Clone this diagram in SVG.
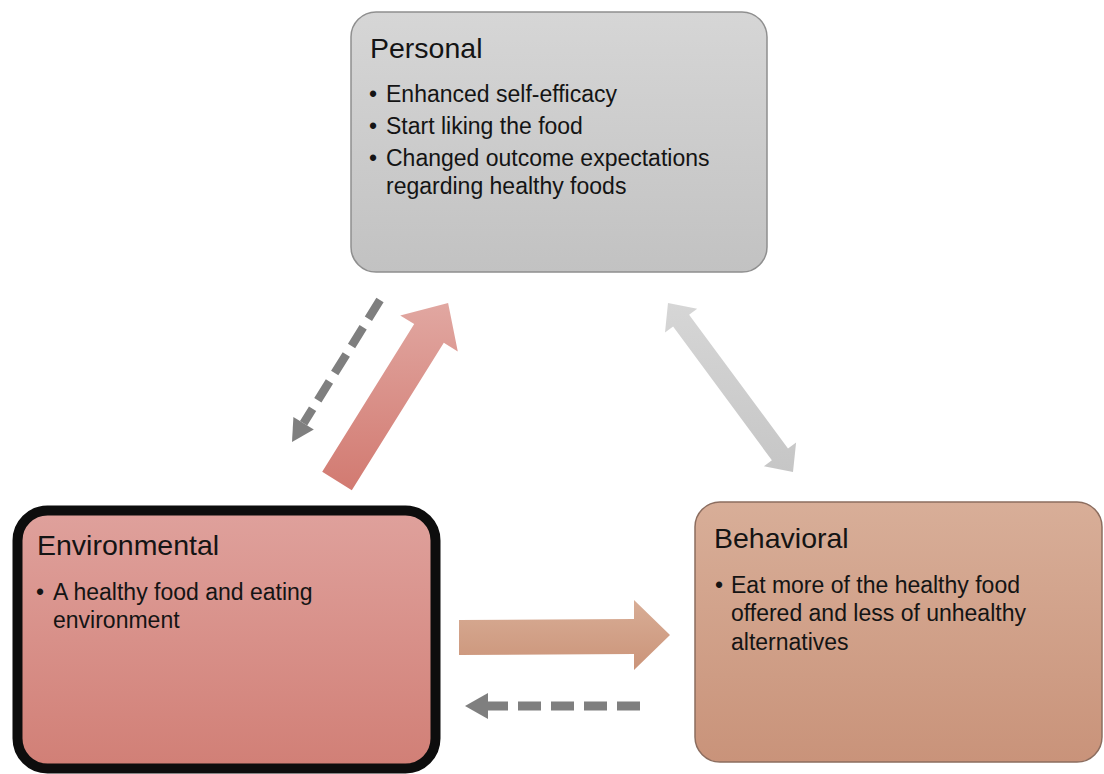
<svg xmlns="http://www.w3.org/2000/svg" width="1104" height="774" viewBox="0 0 1104 774">
  <defs>
    <linearGradient id="gPersonal" x1="0" y1="0" x2="0" y2="1">
      <stop offset="0" stop-color="#d6d6d6"/>
      <stop offset="1" stop-color="#c2c2c2"/>
    </linearGradient>
    <linearGradient id="gEnv" x1="0" y1="0" x2="0" y2="1">
      <stop offset="0" stop-color="#dfa19c"/>
      <stop offset="1" stop-color="#d17f76"/>
    </linearGradient>
    <linearGradient id="gBeh" x1="0" y1="0" x2="0" y2="1">
      <stop offset="0" stop-color="#d8ae98"/>
      <stop offset="1" stop-color="#c9937a"/>
    </linearGradient>
    <linearGradient id="gRedArrow" gradientUnits="userSpaceOnUse" x1="0" y1="303" x2="0" y2="490">
      <stop offset="0" stop-color="#e1a7a1"/>
      <stop offset="1" stop-color="#d27a71"/>
    </linearGradient>
    <linearGradient id="gGrayArrow" gradientUnits="userSpaceOnUse" x1="0" y1="303" x2="0" y2="472">
      <stop offset="0" stop-color="#d6d6d6"/>
      <stop offset="1" stop-color="#c6c6c6"/>
    </linearGradient>
    <linearGradient id="gTanArrow" gradientUnits="userSpaceOnUse" x1="0" y1="600" x2="0" y2="670">
      <stop offset="0" stop-color="#d8ad96"/>
      <stop offset="1" stop-color="#cb9479"/>
    </linearGradient>
  </defs>
  <style>
    .title { font-family: "Liberation Sans", Arial, sans-serif; font-size: 28.5px; fill: #141414; }
    .body { font-family: "Liberation Sans", Arial, sans-serif; font-size: 23px; fill: #141414; }
    .dash { fill: none; stroke: #7f7f7f; stroke-width: 8.5; stroke-dasharray: 22 10; }
    .dashHead { fill: #7f7f7f; }
  </style>

  <rect width="1104" height="774" fill="#ffffff"/>

  <!-- connectors -->
  <g id="connectors">
    <!-- Environmental -> Personal (solid block arrow) -->
    <polygon fill="url(#gRedArrow)" points="322.2,471.7 414.2,324.1 400.2,315.4 448.1,302.9 457.8,351.4 443.8,342.7 351.8,490.3"/>
    <!-- Personal -> Environmental (dashed) -->
    <line class="dash" x1="380" y1="300" x2="303.6" y2="423.3"/>
    <polygon class="dashHead" points="292,442 313.8,429.6 293.4,417.0"/>
    <!-- Personal <-> Behavioral (double block arrow) -->
    <polygon fill="url(#gGrayArrow)" points="668,303 697.2,308.8 689.1,314.7 788.0,448.4 796.1,442.4 793,472 763.9,466.2 771.9,460.3 673.1,326.6 665.0,332.6"/>
    <!-- Environmental -> Behavioral (solid block arrow) -->
    <polygon fill="url(#gTanArrow)" points="459,620 634,619 634,600 670,635 634,670 634,654 459,655"/>
    <!-- Behavioral -> Environmental (dashed) -->
    <line class="dash" x1="640" y1="706" x2="488" y2="706" style="stroke-width:9;stroke-dasharray:23 10"/>
    <polygon class="dashHead" points="465,706 488,693 488,719"/>
  </g>

  <!-- Personal -->
  <g id="node-personal">
    <rect x="351" y="12" width="416" height="260" rx="25" ry="25" fill="url(#gPersonal)" stroke="#8f8f8f" stroke-width="1.5"/>
    <text class="title" x="370" y="58">Personal</text>
    <text class="body" x="369" y="102">•</text>
    <text class="body" x="386" y="102">Enhanced self-efficacy</text>
    <text class="body" x="369" y="134">•</text>
    <text class="body" x="386" y="134">Start liking the food</text>
    <text class="body" x="369" y="166">•</text>
    <text class="body" x="386" y="166">Changed outcome expectations</text>
    <text class="body" x="386" y="194">regarding healthy foods</text>
  </g>

  <!-- Environmental -->
  <g id="node-environmental">
    <rect x="17.5" y="510.5" width="418" height="258" rx="30" ry="30" fill="url(#gEnv)" stroke="#0d0d0d" stroke-width="10"/>
    <text class="title" x="37" y="555">Environmental</text>
    <text class="body" x="36" y="600">•</text>
    <text class="body" x="53" y="600">A healthy food and eating</text>
    <text class="body" x="53" y="628">environment</text>
  </g>

  <!-- Behavioral -->
  <g id="node-behavioral">
    <rect x="695" y="502" width="407" height="260" rx="25" ry="25" fill="url(#gBeh)" stroke="#8c6d5f" stroke-width="1.5"/>
    <text class="title" x="714" y="548">Behavioral</text>
    <text class="body" x="715" y="593">•</text>
    <text class="body" x="731" y="593">Eat more of the healthy food</text>
    <text class="body" x="731" y="621">offered and less of unhealthy</text>
    <text class="body" x="731" y="650">alternatives</text>
  </g>
</svg>
